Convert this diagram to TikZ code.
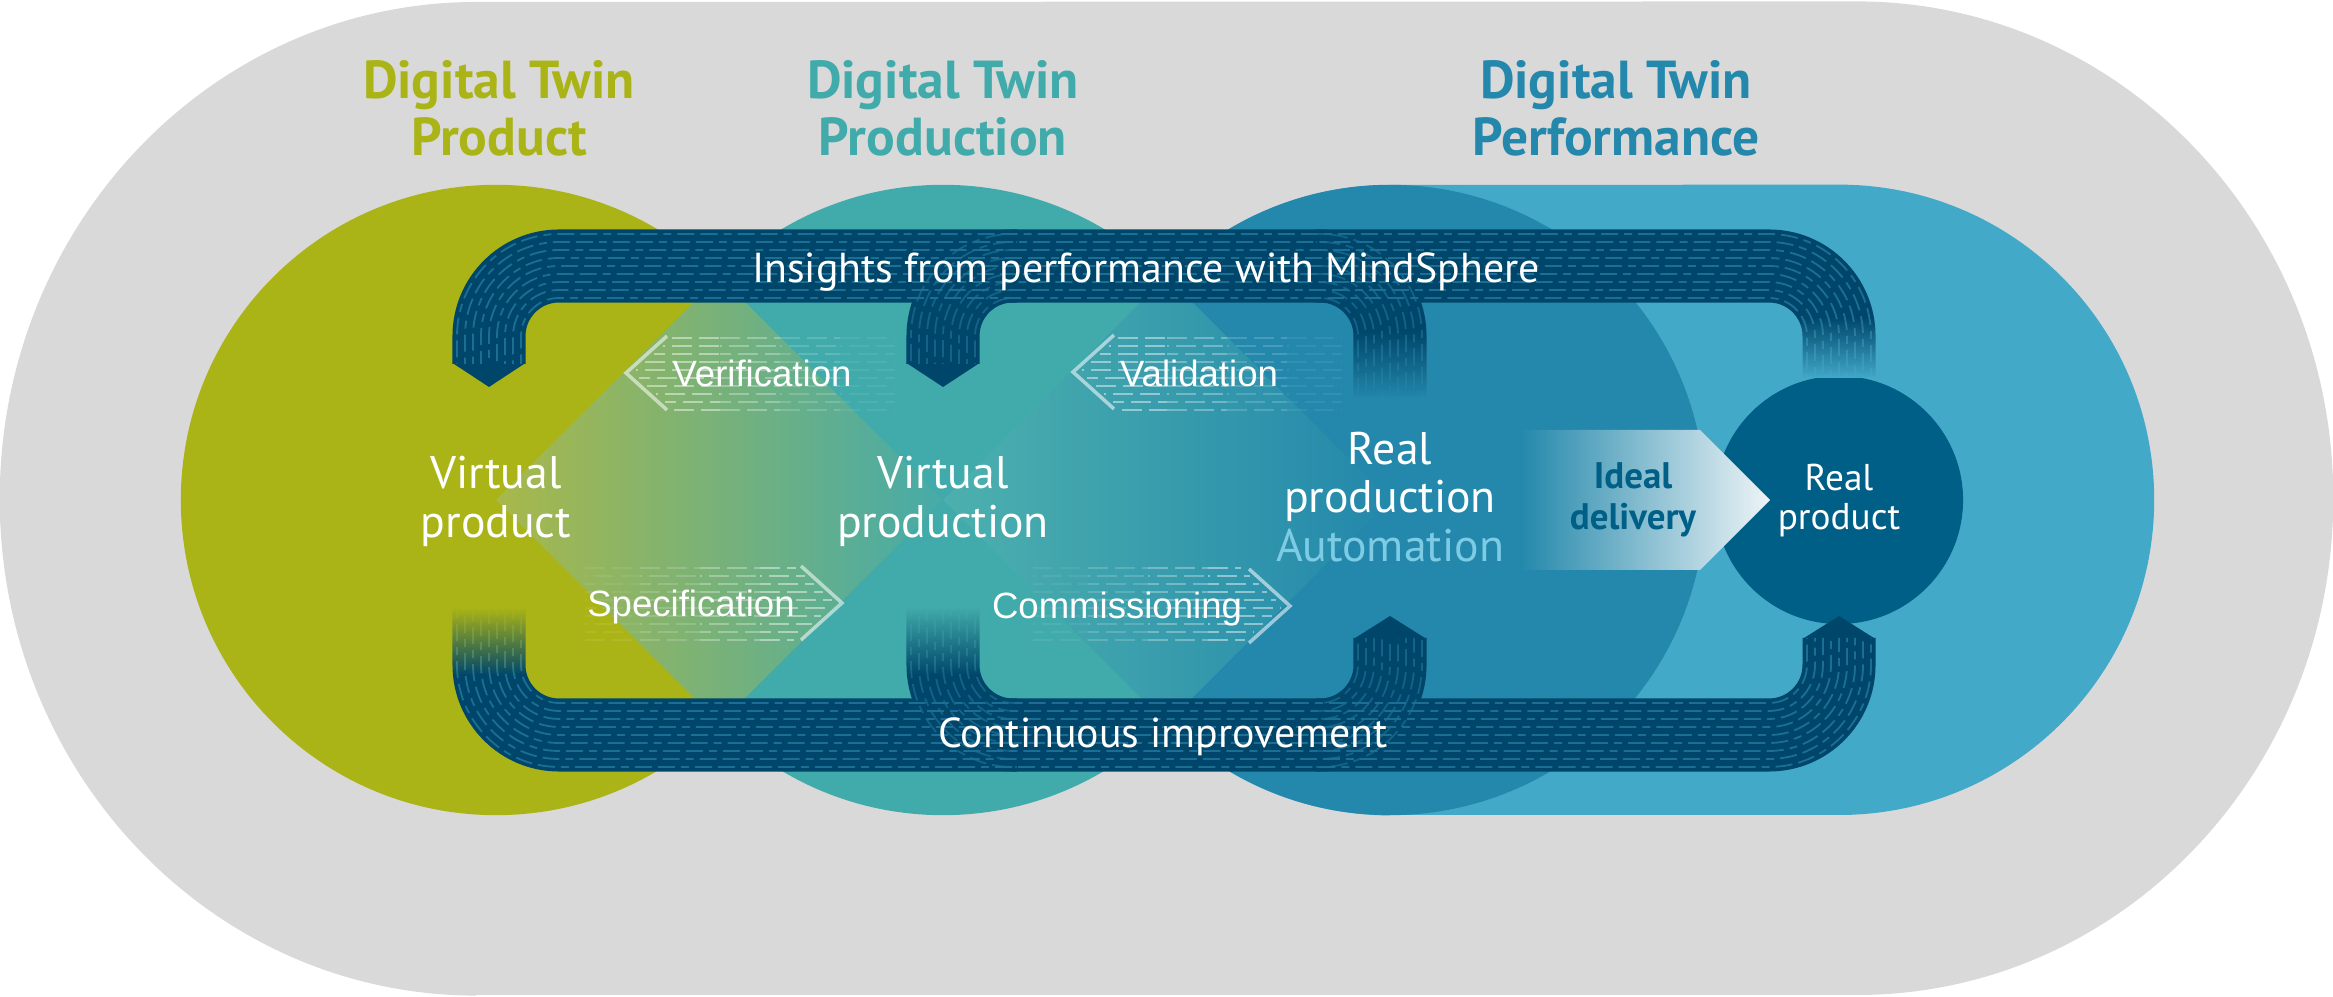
\documentclass[tikz,border=0pt]{standalone}
\usepackage{fontspec}
\setmainfont{PT Sans}
\newfontfamily\arialfont{Liberation Sans}
\usetikzlibrary{shapes,positioning,arrows,calc,fadings}

\definecolor{bggray}{HTML}{D9D9D9}
\definecolor{dtgreen}{HTML}{AAB416}
\definecolor{dtteal}{HTML}{41AAAA}
\definecolor{dtblue}{HTML}{2388AB}
\definecolor{dtlight}{HTML}{42A9C9}
\definecolor{dtdeep}{HTML}{005F87}
\definecolor{dtnavy}{HTML}{00466A}
\definecolor{dtdash}{HTML}{1C6F94}
\definecolor{dtauto}{HTML}{7DCBE5}
\definecolor{dmgreen}{HTML}{A9B84A}
\definecolor{dmteal}{HTML}{46ABA9}
\definecolor{dmteal2}{HTML}{4DB0AE}
\definecolor{tipwhite}{HTML}{EEF4F7}

\tikzfading[name=fadeup, top color=transparent!100, bottom color=transparent!0]
\tikzfading[name=fadedown, top color=transparent!0, bottom color=transparent!100]

\begin{document}
\begin{tikzpicture}[x=0.01cm, y=0.01cm,
    band/.style={draw=dtnavy, line width=0.73cm, rounded corners=0.7cm},
    groove/.style={draw=dtdash, line width=0.018cm,
                   dash pattern=on 0.17cm off 0.06cm on 0.17cm off 0.06cm on 0.08cm off 0.06cm},
    chev/.style={draw=white, draw opacity=.55, line width=0.035cm},
    hatch/.style={draw=white, line width=0.02cm, dash pattern=on 0.2cm off 0.07cm},
    title/.style={font=\bfseries\fontsize{15.2}{16.2}\selectfont, align=center},
    zone/.style={text=white, font=\fontsize{13}{13.9}\selectfont, align=center},
    flowtext/.style={text=white, font=\fontsize{11.9}{14}\selectfont, anchor=base},
    steptext/.style={text=white, font=\arialfont\fontsize{10.4}{12}\selectfont, anchor=base}]

    \useasboundingbox (0,0) rectangle (2333,997);

    % background and the three fields
    \fill[bggray] (476,2) -- (1857,2)
        arc[start angle=-90, end angle=90, x radius=4.76cm, y radius=4.965cm]
        -- (476,995)
        arc[start angle=90, end angle=270, x radius=4.76cm, y radius=4.965cm] -- cycle;
    \fill[dtlight] (1390,182) -- (1839,182) arc[start angle=-90, end angle=90, radius=3.15cm]
        -- (1390,812) arc[start angle=90, end angle=270, radius=3.15cm] -- cycle;
    \fill[dtgreen] (496,497) circle[radius=3.15cm];
    \fill[dtteal] (943,497) circle[radius=3.15cm];
    \fill[dtblue] (1390,497) circle[radius=3.15cm];

    % overlaps
    \shade[left color=dmgreen, right color=dmteal]
        (496,497) -- (719.5,720.5) -- (943,497) -- (719.5,273.5) -- cycle;
    \shade[left color=dmteal2, right color=dtblue]
        (943,497) -- (1166.5,720.5) -- (1390,497) -- (1166.5,273.5) -- cycle;

    % real product and delivery
    \fill[dtdeep] (1839,497) circle[radius=1.24cm];
    \shade[left color=dtblue, right color=tipwhite]
        (1520,567) -- (1700,567) -- (1770,497) -- (1700,427) -- (1520,427) -- cycle;

    % hatching of the steps
    \foreach \k in {0,...,9}{
        \pgfmathsetmacro\ph{mod(\k,3)*0.09}
        \pgfmathsetmacro\yy{587+8*\k}
        \pgfmathsetmacro\xa{633+1.11*abs(\yy-624)}
        \pgfmathsetmacro\xb{1080+1.11*abs(\yy-625)}
        \draw[hatch, dash phase=\ph cm, draw opacity=.45] (\xa,\yy) -- (720,\yy);
        \draw[hatch, dash phase=\ph cm, draw opacity=.3] (720,\yy) -- (780,\yy);
        \draw[hatch, dash phase=\ph cm, draw opacity=.17] (780,\yy) -- (840,\yy);
        \draw[hatch, dash phase=\ph cm, draw opacity=.07] (840,\yy) -- (895,\yy);
        \draw[hatch, dash phase=\ph cm, draw opacity=.45] (\xb,\yy) -- (1167,\yy);
        \draw[hatch, dash phase=\ph cm, draw opacity=.3] (1167,\yy) -- (1227,\yy);
        \draw[hatch, dash phase=\ph cm, draw opacity=.17] (1227,\yy) -- (1287,\yy);
        \draw[hatch, dash phase=\ph cm, draw opacity=.07] (1287,\yy) -- (1342,\yy);
        \pgfmathsetmacro\yl{357+8*\k}
        \pgfmathsetmacro\xc{835-1.11*abs(\yl-394)}
        \pgfmathsetmacro\xd{1283-1.11*abs(\yl-391)}
        \draw[hatch, dash phase=\ph cm, draw opacity=.07] (585,\yl) -- (640,\yl);
        \draw[hatch, dash phase=\ph cm, draw opacity=.17] (640,\yl) -- (700,\yl);
        \draw[hatch, dash phase=\ph cm, draw opacity=.3] (700,\yl) -- (760,\yl);
        \draw[hatch, dash phase=\ph cm, draw opacity=.45] (760,\yl) -- (\xc,\yl);
        \draw[hatch, dash phase=\ph cm, draw opacity=.07] (1033,\yl) -- (1088,\yl);
        \draw[hatch, dash phase=\ph cm, draw opacity=.17] (1088,\yl) -- (1148,\yl);
        \draw[hatch, dash phase=\ph cm, draw opacity=.3] (1148,\yl) -- (1208,\yl);
        \draw[hatch, dash phase=\ph cm, draw opacity=.45] (1208,\yl) -- (\xd,\yl);
    }
    \draw[chev] (667,661) -- (626,624) -- (667,587);
    \draw[chev] (1114,662) -- (1073,625) -- (1114,588);
    \draw[chev] (801,431) -- (842,394) -- (801,357);
    \draw[chev] (1249,428) -- (1290,391) -- (1249,354);

    % flow bands
    \draw[band] (1839,620) -- (1839,731) -- (489,731) -- (489,633);
    \draw[band] (1017,731) -- (943,731) -- (943,633);
    \draw[band] (1316,731) -- (1390,731) -- (1390,600);
    \draw[band] (489,388) -- (489,262) -- (1839,262) -- (1839,359);
    \draw[band] (943,388) -- (943,262) -- (1017,262);
    \draw[band] (1316,262) -- (1390,262) -- (1390,359);
    \fill[dtnavy] (452.5,634) -- (489,610) -- (525.5,634) -- cycle;
    \fill[dtnavy] (906.5,634) -- (943,610) -- (979.5,634) -- cycle;
    \fill[dtnavy] (1353.5,358) -- (1390,381) -- (1426.5,358) -- cycle;
    \fill[dtnavy] (1802.5,358) -- (1839,381) -- (1875.5,358) -- cycle;

    \foreach \d in {-32,-24,...,32}{
        \pgfmathsetmacro\rc{(70-(\d))/100}
        \pgfmathsetmacro\ph{mod(\d+40,19)/100}
        \begin{scope}[every path/.style={groove, rounded corners=\rc cm, dash phase=\ph cm}]
            \draw ({1839-(\d)},620) -- ({1839-(\d)},{731-(\d)})
                -- ({489+(\d)},{731-(\d)}) -- ({489+(\d)},633);
            \draw ({489+(\d)},388) -- ({489+(\d)},{262+(\d)})
                -- ({1839-(\d)},{262+(\d)}) -- ({1839-(\d)},359);
            \draw[draw opacity=.7] (1017,{731-(\d)}) -- ({943+(\d)},{731-(\d)}) -- ({943+(\d)},633);
            \draw[draw opacity=.7] (1316,{731-(\d)}) -- ({1390-(\d)},{731-(\d)}) -- ({1390-(\d)},600);
            \draw[draw opacity=.7] ({943+(\d)},388) -- ({943+(\d)},{262+(\d)}) -- (1017,{262+(\d)});
            \draw[draw opacity=.7] (1316,{262+(\d)}) -- ({1390-(\d)},{262+(\d)}) -- ({1390-(\d)},359);
        \end{scope}
    }
    % band ends melting into the fields
    \fill[dtlight, path fading=fadeup] (1801,619) rectangle (1877,680);
    \fill[dtblue, path fading=fadeup] (1352,599) rectangle (1428,666);
    \fill[dtgreen, path fading=fadedown] (451,322) rectangle (527,389);
    \fill[dtteal, path fading=fadedown] (905,322) rectangle (981,389);

    % texts
    \node[title, text=dtgreen] (tprod) at (499,889) {Digital Twin\\Product};
    \node[title, text=dtteal] (tpron) at (943,889) {Digital Twin\\Production};
    \node[title, text=dtblue] (tperf) at (1616,889) {Digital Twin\\Performance};

    \node[zone] (vprod) at (496,496) {Virtual\\product};
    \node[zone] (vpron) at (943,496) {Virtual\\production};
    \node[zone] (rpron) at (1390,500) {Real\\production\\\textcolor{dtauto}{Automation}};
    \node[zone, font=\fontsize{10.6}{11.1}\selectfont] (rprod) at (1839,496) {Real\\product};
    \node[zone, text=dtdeep, font=\bfseries\fontsize{10.5}{11.7}\selectfont] (ideal) at (1633,497) {Ideal\\delivery};

    \node[flowtext] (insight) at (1146,714) {Insights from performance with MindSphere};
    \node[flowtext] (improve) at (1163,249) {Continuous improvement};

    \node[steptext] (verif) at (762,610) {Verification};
    \node[steptext] (valid) at (1199,610) {Validation};
    \node[steptext] (spec) at (691,380) {Specification};
    \node[steptext] (comm) at (1117,378) {Commissioning};
\end{tikzpicture}
\end{document}
